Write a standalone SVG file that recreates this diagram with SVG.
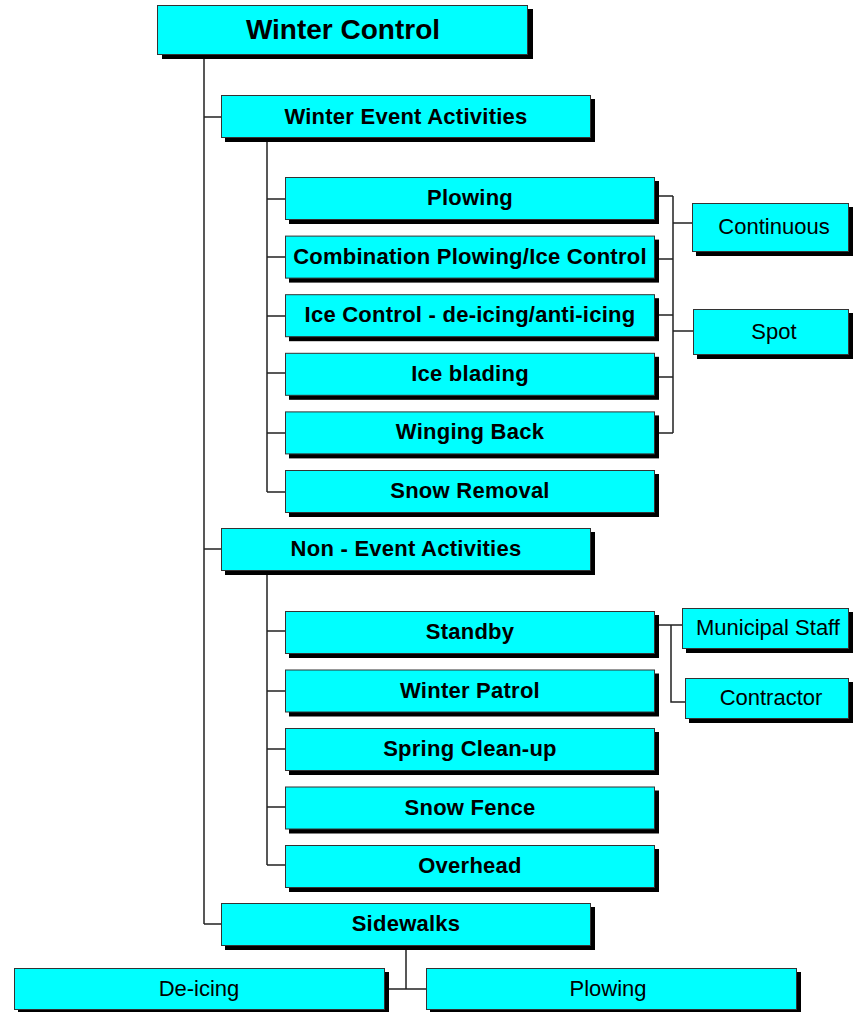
<svg xmlns="http://www.w3.org/2000/svg" width="858" height="1012" viewBox="0 0 858 1012">
<style>
.sh{fill:#000}
.bx{fill:#00ffff;stroke:#333;stroke-width:1}
.b{font-family:"Liberation Sans",Arial,sans-serif;font-weight:bold;font-size:22px;letter-spacing:0.25px;text-anchor:middle;fill:#000}
.r{font-family:"Liberation Sans",Arial,sans-serif;font-size:22px;text-anchor:middle;fill:#000}
.t{font-family:"Liberation Sans",Arial,sans-serif;font-weight:bold;font-size:28px;text-anchor:middle;fill:#000}
.c{fill:none;stroke:#222;stroke-width:1.5}
</style>
<g id="connectors">
<path class="c" d="M204,59V924M204,117H221M204,549H221M204,924H221"/>
<path class="c" d="M267,142V492M267,199H285M267,257H285M267,316H285M267,373H285M267,433H285M267,492H285"/>
<path class="c" d="M267,574V865M267,631H285M267,691H285M267,749H285M267,807H285M267,865H285"/>
<path class="c" d="M673,196V433M659,196H673M659,259H673M659,315H673M659,377H673M659,433H673M673,223H692M673,331H693"/>
<path class="c" d="M659,625H682M671,625V702H685"/>
<path class="c" d="M406,949V989M389,989H426"/>
</g>
<g id="winter-control"><rect class="sh" x="162" y="9" width="371" height="50"/><rect class="bx" x="157.5" y="5.5" width="370" height="49"/><text class="t" x="343" y="39">Winter Control</text></g>
<g id="winter-event"><rect class="sh" x="225" y="99" width="370" height="43"/><rect class="bx" x="221.5" y="95.5" width="369" height="42"/><text class="b" x="406" y="124">Winter Event Activities</text></g>
<g id="plowing"><rect class="sh" x="289" y="181" width="370" height="43"/><rect class="bx" x="285.5" y="177.5" width="369" height="42"/><text class="b" x="470" y="205">Plowing</text></g>
<g id="combination"><rect class="sh" x="289" y="239.6" width="370" height="43"/><rect class="bx" x="285.5" y="236.1" width="369" height="42"/><text class="b" x="470" y="263.6">Combination Plowing/Ice Control</text></g>
<g id="ice-control"><rect class="sh" x="289" y="298.2" width="370" height="43"/><rect class="bx" x="285.5" y="294.7" width="369" height="42"/><text class="b" x="470" y="322.2">Ice Control - de-icing/anti-icing</text></g>
<g id="ice-blading"><rect class="sh" x="289" y="356.8" width="370" height="43"/><rect class="bx" x="285.5" y="353.3" width="369" height="42"/><text class="b" x="470" y="380.8">Ice blading</text></g>
<g id="winging-back"><rect class="sh" x="289" y="415.4" width="370" height="43"/><rect class="bx" x="285.5" y="411.9" width="369" height="42"/><text class="b" x="470" y="439.4">Winging Back</text></g>
<g id="snow-removal"><rect class="sh" x="289" y="474" width="370" height="43"/><rect class="bx" x="285.5" y="470.5" width="369" height="42"/><text class="b" x="470" y="498">Snow Removal</text></g>
<g id="continuous"><rect class="sh" x="696" y="207" width="157" height="49"/><rect class="bx" x="692.5" y="203.5" width="156" height="48"/><text class="r" x="774" y="234">Continuous</text></g>
<g id="spot"><rect class="sh" x="697" y="313" width="156" height="46"/><rect class="bx" x="693.5" y="309.5" width="155" height="45"/><text class="r" x="774" y="339">Spot</text></g>
<g id="non-event"><rect class="sh" x="225" y="532" width="370" height="43"/><rect class="bx" x="221.5" y="528.5" width="369" height="42"/><text class="b" x="406" y="556">Non - Event Activities</text></g>
<g id="standby"><rect class="sh" x="289" y="615" width="370" height="43"/><rect class="bx" x="285.5" y="611.5" width="369" height="42"/><text class="b" x="470" y="639">Standby</text></g>
<g id="winter-patrol"><rect class="sh" x="289" y="673.5" width="370" height="43"/><rect class="bx" x="285.5" y="670" width="369" height="42"/><text class="b" x="470" y="697.5">Winter Patrol</text></g>
<g id="spring-cleanup"><rect class="sh" x="289" y="732" width="370" height="43"/><rect class="bx" x="285.5" y="728.5" width="369" height="42"/><text class="b" x="470" y="756">Spring Clean-up</text></g>
<g id="snow-fence"><rect class="sh" x="289" y="790.5" width="370" height="43"/><rect class="bx" x="285.5" y="787" width="369" height="42"/><text class="b" x="470" y="814.5">Snow Fence</text></g>
<g id="overhead"><rect class="sh" x="289" y="849" width="370" height="43"/><rect class="bx" x="285.5" y="845.5" width="369" height="42"/><text class="b" x="470" y="873">Overhead</text></g>
<g id="municipal-staff"><rect class="sh" x="686" y="612" width="167" height="41"/><rect class="bx" x="682.5" y="608.5" width="166" height="40"/><text class="r" x="768" y="635">Municipal Staff</text></g>
<g id="contractor"><rect class="sh" x="689" y="682" width="164" height="41"/><rect class="bx" x="685.5" y="678.5" width="163" height="40"/><text class="r" x="771" y="705">Contractor</text></g>
<g id="sidewalks"><rect class="sh" x="225" y="907" width="370" height="43"/><rect class="bx" x="221.5" y="903.5" width="369" height="42"/><text class="b" x="406" y="931">Sidewalks</text></g>
<g id="de-icing"><rect class="sh" x="18" y="972" width="371" height="42"/><rect class="bx" x="14.5" y="968.5" width="370" height="41"/><text class="r" x="199" y="996">De-icing</text></g>
<g id="sidewalk-plowing"><rect class="sh" x="430" y="972" width="371" height="42"/><rect class="bx" x="426.5" y="968.5" width="370" height="41"/><text class="r" x="608" y="996">Plowing</text></g>
</svg>
